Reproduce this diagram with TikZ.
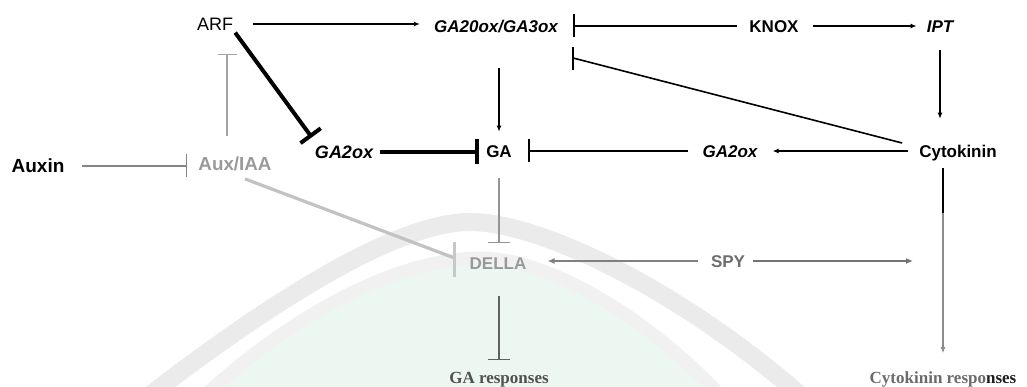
\documentclass[tikz,border=0pt]{standalone}
\usepackage{fontspec}
\setmainfont{Liberation Sans}
\newfontfamily\serifface{Liberation Serif}
\usetikzlibrary{arrows.meta,calc}

\definecolor{bandgrey}{HTML}{EBEBEB}
\definecolor{bandlight}{HTML}{F1F1F1}
\definecolor{mint}{HTML}{EDF7F2}
\definecolor{auxgrey}{HTML}{9A9A9A}
\definecolor{dellagrey}{HTML}{999999}
\definecolor{spygrey}{HTML}{6E6E6E}
\definecolor{respgrey}{HTML}{505050}

\tikzset{
  lbl/.style={inner sep=0pt, text height=12.2pt, text depth=0pt,
              font=\fontsize{17}{17}\selectfont\bfseries},
  gene/.style={lbl, font=\fontsize{17}{17}\selectfont\bfseries\itshape},
  resp/.style={inner sep=0pt, text height=11.3pt, text depth=0pt,
               font=\fontsize{17}{17}\selectfont\serifface\bfseries},
  act/.style={line width=1.6pt, -{Latex[length=6pt,width=5pt]}},
  inh/.style={line width=1.6pt, -{Bar[width=23pt]}},
  thickinh/.style={line width=4pt, -{Bar[width=25pt]}},
}

\begin{document}
\begin{tikzpicture}[x=1pt,y=-1pt]
\useasboundingbox (0,0) rectangle (1027,387);
\fill[white] (0,0) rectangle (1027,387);

% faint emblem in the background
\begin{scope}
  \clip (0,0) rectangle (1027,387);
  \fill[mint] (205,395) .. controls (310,300) and (410,258) .. (480,258)
              .. controls (550,258) and (650,320) .. (720,395) -- cycle;
  \draw[bandlight, line width=13pt]
    (205,395) .. controls (310,300) and (410,258) .. (480,258)
              .. controls (550,258) and (650,320) .. (720,395);
  \draw[bandgrey, line width=18pt]
    (150,395) .. controls (280,295) and (400,222) .. (470,222)
              .. controls (540,222) and (680,290) .. (800,395);
\end{scope}

% labels
\node[lbl, font=\fontsize{18}{18}\selectfont, text height=12.9pt] (arf) at (215,24) {ARF};
\node[gene] (ga20) at (496,26) {GA20ox/GA3ox};
\node[lbl] (knox) at (774,26) {KNOX};
\node[gene] (ipt) at (940,26) {IPT};
\node[lbl] (cyto) at (958,151) {Cytokinin};
\node[gene] (ga2r) at (730,151) {GA2ox};
\node[lbl] (ga) at (499,151) {GA};
\node[gene, font=\fontsize{18}{18}\selectfont\bfseries\itshape, text height=12.9pt] (ga2l) at (344,152) {GA2ox};
\node[lbl, font=\fontsize{19}{19}\selectfont\bfseries, text height=13.6pt] (auxin) at (38,166) {Auxin};
\node[lbl, text=auxgrey, font=\fontsize{18.8}{19}\selectfont\bfseries, text height=13.4pt] (auxiaa) at (235,164) {Aux/IAA};
\node[lbl, text=dellagrey] (della) at (498,263) {DELLA};
\node[lbl, text=spygrey] (spy) at (728,261) {SPY};
\node[resp, text=respgrey] (garesp) at (499,378) {GA responses};
\node[resp] (ckresp) at (943,378) {\textcolor{black!58}{Cytokinin respo}\textcolor{black!88}{nses}};
\coordinate (spyend) at (913,261);

% top row
\draw[act, shorten <=20pt, shorten >=14pt] (arf.east) -- (arf.east -| ga20.west);
\draw[inh, shorten <=12pt, shorten >=15pt] (knox.west) -- (knox.west -| ga20.east);
\draw[act, shorten <=14pt, shorten >=10pt] (knox.east) -- (knox.east -| ipt.west);
\draw[act, shorten <=18pt, shorten >=26pt] (ipt.south) -- (ipt.south |- cyto.north);

% cytokinin back to GA20ox/GA3ox (upright bar)
\coordinate (ga20low) at ($(ga20.east)+(15,32)$);
\draw[line width=1.6pt] ($(cyto.west)+(-17,-8)$) -- (ga20low);
\draw[line width=1.6pt] ($(ga20low)+(0,-11)$) -- ($(ga20low)+(0,12)$);

% middle row
\draw[act, shorten <=11pt, shorten >=15pt] (cyto.west) -- (cyto.west -| ga2r.east);
\draw[inh, shorten <=14pt, shorten >=16pt] (ga2r.west) -- (ga2r.west -| ga.east);
\draw[act, shorten <=36pt, shorten >=13pt] (ga.north |- ga20.south) -- (ga.north);
\draw[thickinh, shorten <=7pt, shorten >=7pt] (ga2l.east) -- (ga2l.east -| ga.west);
\draw[thickinh] ($(arf.south east)+(2,2)$) -- ($(ga2l.north west)+(-3,-8)$);

% auxin branch
\draw[inh, draw=black!48, shorten <=17pt, shorten >=11pt] (auxin.east) -- (auxin.east -| auxiaa.west);
\draw[line width=1.5pt, draw=black!36, -{Bar[width=19pt]}]
  ($(auxiaa.north)+(-8,-21)$) -- ($(arf.south)+(12,23)$);
\draw[line width=3.2pt, draw=black!24] ($(auxiaa.south)+(10,8)$) -- ($(della.west)+(-15,-5)$);
\draw[line width=2.6pt, draw=black!22] ($(della.west)+(-15,-21)$) -- ($(della.west)+(-15,14)$);

% DELLA column
\draw[line width=1.5pt, draw=black!42, -{Bar[width=22pt]}, shorten <=21pt, shorten >=13.5pt]
  (ga.south) -- (ga.south |- della.north);
\draw[line width=1.6pt, draw=black!62, -{Bar[width=22pt]}, shorten <=26.5pt, shorten >=12pt]
  (garesp.north |- della.south) -- (garesp.north);

% SPY
\draw[line width=2pt, draw=black!50, -{Latex[length=7pt,width=6pt]}, shorten <=13pt, shorten >=21pt]
  (spy.west) -- (spy.west -| della.east);
\draw[line width=2pt, draw=black!55, -{Latex[length=7pt,width=6pt]}, shorten <=8pt]
  (spy.east) -- (spyend);

% cytokinin responses
\draw[line width=1.5pt, draw=black!45, -{Latex[length=6pt,width=5pt]}, shorten <=11pt, shorten >=19pt]
  (ckresp.north |- cyto.south) -- (ckresp.north);
\draw[line width=2.2pt] ($(ckresp.north |- cyto.south)+(0,11)$) -- ($(ckresp.north |- cyto.south)+(0,56)$);
\end{tikzpicture}
\end{document}
